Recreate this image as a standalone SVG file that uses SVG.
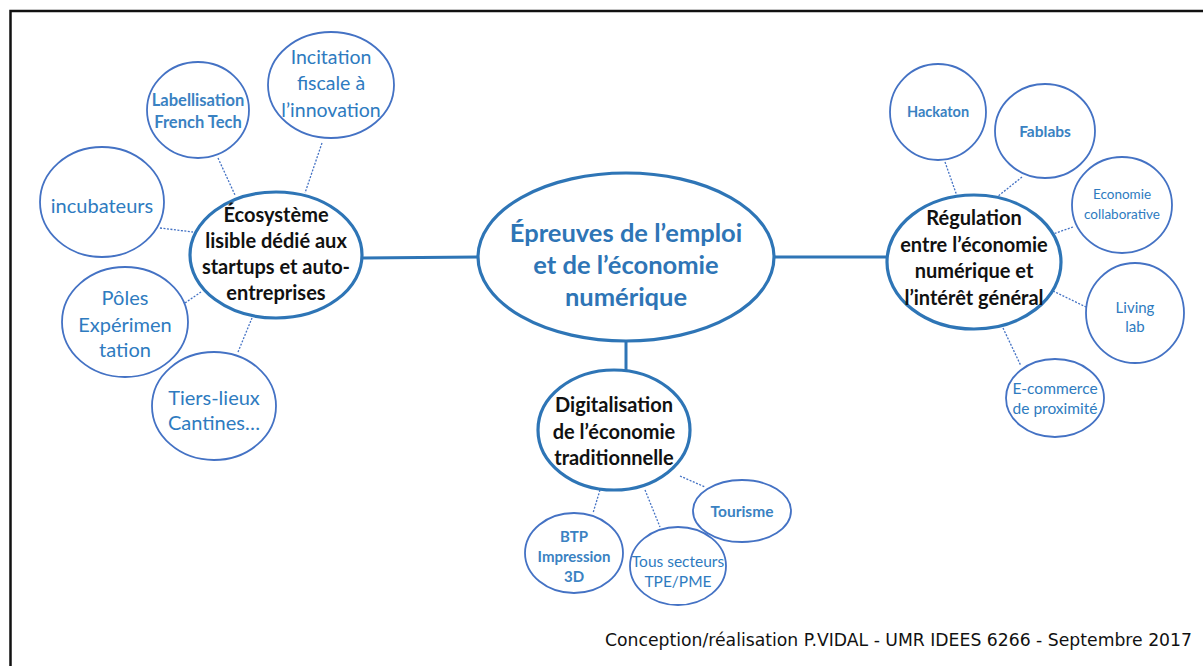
<svg xmlns="http://www.w3.org/2000/svg" width="1203" height="666" viewBox="0 0 1203 666">
<style>
.hub{fill:#fff;stroke:#2E75B6;stroke-width:3.2}
.leaf{fill:#fff;stroke:#4472C4;stroke-width:1.8}
.main{stroke:#2E75B6;stroke-width:3;fill:none}
.dot{stroke:#4472C4;stroke-width:1.3;stroke-dasharray:2 1.5;fill:none}
.ht{font-family:Lato,"Open Sans",sans-serif;font-weight:bold;fill:#111;text-anchor:middle}
.ct{font-family:Lato,"Open Sans",sans-serif;font-weight:bold;fill:#2E75B6;text-anchor:middle}
.lt{font-family:Lato,"Open Sans",sans-serif;fill:#2E7BC0;text-anchor:middle}
.lb{font-family:Lato,"Open Sans",sans-serif;font-weight:bold;fill:#3A82C2;text-anchor:middle}
</style>
<rect x="0" y="0" width="1203" height="666" fill="#fff"/>
<path d="M10.5 670 V11 H1210" fill="none" stroke="#111" stroke-width="2.5"/>
<g id="connectors">
<line class="main" x1="362" y1="258" x2="479" y2="257"/>
<line class="main" x1="774" y1="257" x2="888" y2="257"/>
<line class="main" x1="626" y1="341" x2="626" y2="371"/>
<line class="dot" x1="322" y1="143" x2="305" y2="193"/>
<line class="dot" x1="218" y1="158" x2="235" y2="195"/>
<line class="dot" x1="160" y1="228" x2="193" y2="232"/>
<line class="dot" x1="185" y1="303" x2="201" y2="292"/>
<line class="dot" x1="238" y1="352" x2="252" y2="318"/>
<line class="dot" x1="945" y1="162" x2="957" y2="196"/>
<line class="dot" x1="1022" y1="177" x2="997" y2="197"/>
<line class="dot" x1="1073" y1="227" x2="1053" y2="234"/>
<line class="dot" x1="1053" y1="291" x2="1086" y2="307"/>
<line class="dot" x1="1003" y1="328" x2="1021" y2="366"/>
<line class="dot" x1="600" y1="490" x2="593" y2="513"/>
<line class="dot" x1="645" y1="490" x2="660" y2="527"/>
<line class="dot" x1="680" y1="476" x2="705" y2="487"/>
</g>
<g id="central">
<ellipse class="hub" cx="626" cy="257" rx="148" ry="84"/>
<text class="ct" x="626" y="242" font-size="25.5">Épreuves de l’emploi</text>
<text class="ct" x="626" y="274" font-size="25.5">et de l’économie</text>
<text class="ct" x="626" y="306" font-size="25.5">numérique</text>
</g>
<g id="ecosysteme">
<ellipse class="hub" cx="276" cy="255" rx="86" ry="63"/>
<text class="ht" x="276" y="222" font-size="20">Écosystème</text>
<text class="ht" x="276" y="248" font-size="20">lisible dédié aux</text>
<text class="ht" x="276" y="274" font-size="20">startups et auto-</text>
<text class="ht" x="276" y="300" font-size="20">entreprises</text>
</g>
<g id="regulation">
<ellipse class="hub" cx="974" cy="262" rx="87" ry="67"/>
<text class="ht" x="974" y="225" font-size="20">Régulation</text>
<text class="ht" x="974" y="252" font-size="20">entre l’économie</text>
<text class="ht" x="974" y="278" font-size="20">numérique et</text>
<text class="ht" x="974" y="305" font-size="20">l’intérêt général</text>
</g>
<g id="digitalisation">
<ellipse class="hub" cx="614" cy="430" rx="76" ry="60"/>
<text class="ht" x="614" y="412" font-size="20">Digitalisation</text>
<text class="ht" x="614" y="439" font-size="20">de l’économie</text>
<text class="ht" x="614" y="465" font-size="20">traditionnelle</text>
</g>
<g id="incitation">
<ellipse class="leaf" cx="331" cy="85" rx="63" ry="53"/>
<text class="lt" x="331" y="64" font-size="19.5">Incitation</text>
<text class="lt" x="331" y="90" font-size="19.5">fiscale à</text>
<text class="lt" x="331" y="117" font-size="19.5">l’innovation</text>
</g>
<g id="labellisation">
<ellipse class="leaf" cx="198" cy="110" rx="51" ry="48"/>
<text class="lb" x="198" y="106" font-size="16.5">Labellisation</text>
<text class="lb" x="198" y="128" font-size="16.5">French Tech</text>
</g>
<g id="incubateurs">
<ellipse class="leaf" cx="102" cy="202" rx="62" ry="55"/>
<text class="lt" x="102" y="213" font-size="20">incubateurs</text>
</g>
<g id="poles">
<ellipse class="leaf" cx="125" cy="322" rx="63" ry="55"/>
<text class="lt" x="125" y="305" font-size="20">Pôles</text>
<text class="lt" x="125" y="332" font-size="20">Expérimen</text>
<text class="lt" x="125" y="357" font-size="20">tation</text>
</g>
<g id="tiers-lieux">
<ellipse class="leaf" cx="214" cy="406" rx="62" ry="54"/>
<text class="lt" x="214" y="405" font-size="20">Tiers-lieux</text>
<text class="lt" x="214" y="430" font-size="20">Cantines…</text>
</g>
<g id="hackaton">
<ellipse class="leaf" cx="938" cy="112" rx="48" ry="48"/>
<text class="lb" x="938" y="117" font-size="14.5">Hackaton</text>
</g>
<g id="fablabs">
<ellipse class="leaf" cx="1045" cy="131" rx="50" ry="47"/>
<text class="lb" x="1045" y="137" font-size="15.5">Fablabs</text>
</g>
<g id="economie-collaborative">
<ellipse class="leaf" cx="1122" cy="205" rx="50" ry="48"/>
<text class="lt" x="1122" y="199" font-size="13.5">Economie</text>
<text class="lt" x="1122" y="219" font-size="13.5">collaborative</text>
</g>
<g id="living-lab">
<ellipse class="leaf" cx="1135" cy="313" rx="49" ry="50"/>
<text class="lt" x="1135" y="313" font-size="15">Living</text>
<text class="lt" x="1135" y="332" font-size="15">lab</text>
</g>
<g id="e-commerce">
<ellipse class="leaf" cx="1055" cy="398" rx="49" ry="39"/>
<text class="lt" x="1055" y="394" font-size="15.5">E-commerce</text>
<text class="lt" x="1055" y="414" font-size="15.5">de proximité</text>
</g>
<g id="tourisme">
<ellipse class="leaf" cx="742" cy="511" rx="49" ry="31"/>
<text class="lb" x="742" y="517" font-size="15.5">Tourisme</text>
</g>
<g id="btp">
<ellipse class="leaf" cx="574" cy="553" rx="49" ry="40"/>
<text class="lb" x="574" y="542" font-size="15">BTP</text>
<text class="lb" x="574" y="562" font-size="15">Impression</text>
<text class="lb" x="574" y="582" font-size="15">3D</text>
</g>
<g id="tous-secteurs">
<ellipse class="leaf" cx="678" cy="566" rx="48" ry="39"/>
<text class="lt" x="678" y="567" font-size="15.5">Tous secteurs</text>
<text class="lt" x="678" y="587" font-size="15.5">TPE/PME</text>
</g>
<text x="605" y="646" font-family="'DejaVu Sans',sans-serif" font-size="17" fill="#111" textLength="587" lengthAdjust="spacingAndGlyphs">Conception/réalisation P.VIDAL - UMR IDEES 6266 - Septembre 2017</text>
</svg>
